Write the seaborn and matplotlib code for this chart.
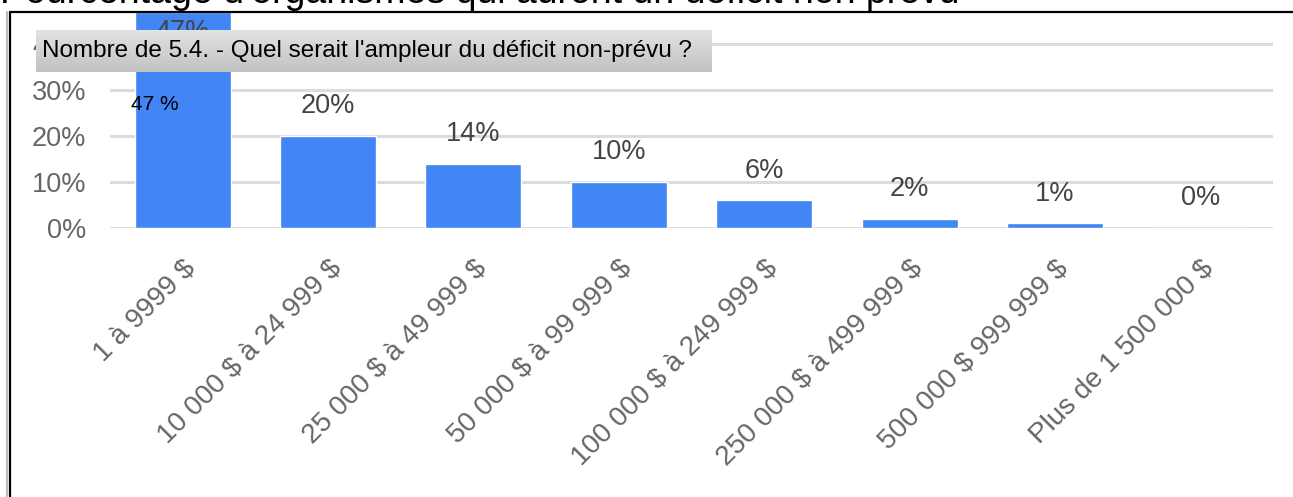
import matplotlib
matplotlib.use("Agg")
import matplotlib.pyplot as plt
import matplotlib.transforms as mtransforms
from matplotlib.lines import Line2D
from matplotlib.colors import LinearSegmentedColormap
import numpy as np
import pandas as pd
import seaborn as sns

categories = ["1 à 9999 $", "10 000 $ à 24 999 $", "25 000 $ à 49 999 $",
              "50 000 $ à 99 999 $", "100 000 $ à 249 999 $", "250 000 $ à 499 999 $",
              "500 000 $ 999 999 $", "Plus de 1 500 000 $"]
values = [47, 20, 14, 10, 6, 2, 1, 0]
value_labels = ["47%", "20%", "14%", "10%", "6%", "2%", "1%", "0%"]
y_ticks = [0, 10, 20, 30, 40]
y_tick_labels = ["0%", "10%", "20%", "30%", "40%"]
title = "Pourcentage d'organismes qui auront un déficit non prévu"
tooltip_text = "Nombre de 5.4. - Quel serait l'ampleur du déficit non-prévu ?"
tooltip_value = "47 %"

sns.set_theme(style="white")
plt.rcParams['font.family'] = ['Liberation Sans', 'DejaVu Sans']

W, H = 1293, 497
fig = plt.figure(figsize=(W / 100, H / 100), dpi=100)
fig.patch.set_facecolor("white")

ax_left, ax_right, ax_top, ax_bottom = 110, 1273, 13, 228
ax = fig.add_axes([ax_left / W, 1 - ax_bottom / H, (ax_right - ax_left) / W, (ax_bottom - ax_top) / H])

df = pd.DataFrame({"cat": categories, "val": values})
sns.barplot(data=df, x="cat", y="val", color="#4285F4", saturation=1, width=0.66, ax=ax)

ymax = (ax_bottom - ax_top) / 4.6
ax.set_ylim(0, ymax)
ax.set_xlim(-0.5, len(categories) - 0.5)
ax.set_yticks(y_ticks)
ax.set_yticklabels(y_tick_labels, fontsize=19.5, color="#666666")
ax.set_xlabel("")
ax.set_ylabel("")
ax.yaxis.grid(True, color="#dcdcdc", linewidth=2.2)
ax.set_axisbelow(True)
for s in ax.spines.values():
    s.set_visible(False)
ax.tick_params(axis="y", length=0, pad=17)
ax.tick_params(axis="x", length=0, pad=26)
ax.set_xticks(range(len(categories)))
display_cats = [c.replace("$", r"\$") for c in categories]
ax.set_xticklabels(display_cats, rotation=45, ha="right", va="center",
                   rotation_mode="anchor", fontsize=20, color="#666666")
offset = mtransforms.ScaledTranslation(9 / 100, 0, fig.dpi_scale_trans)
for lbl in ax.get_xticklabels():
    lbl.set_transform(lbl.get_transform() + offset)

for i, (v, lab) in enumerate(zip(values, value_labels)):
    if v <= ymax:
        ax.annotate(lab, (i, v), xytext=(0, 21.5), textcoords="offset points",
                    ha="center", va="center", fontsize=19.5, color="#444444",
                    annotation_clip=False)
    else:
        ax.annotate(lab, (i, ymax), xytext=(0, -14), textcoords="offset points",
                    ha="center", va="center", fontsize=19.5, color="#444444",
                    annotation_clip=False)

# tooltip value text inside first bar
ax.text(-0.355, (ax_bottom - 105) / 4.6, tooltip_value, ha="left", va="center",
        fontsize=15, color="black")

# title (partially cut at top)
fig.text(0.0, 1 - 3 / H, title, ha="left", va="baseline", fontsize=27, color="black")

# frame lines
fig.add_artist(Line2D([10 / W, 1.0], [1 - 12 / H, 1 - 12 / H], color="black", lw=1.6,
                      transform=fig.transFigure))
fig.add_artist(Line2D([10 / W, 10 / W], [0, 1 - 12 / H], color="black", lw=1.6,
                      transform=fig.transFigure))
fig.add_artist(Line2D([7 / W, 7 / W], [0, 1 - 12 / H], color="#bbbbbb", lw=1.5,
                      transform=fig.transFigure))

# tooltip box with gradient
tip = fig.add_axes([36 / W, 1 - 72 / H, (712 - 36) / W, (72 - 30) / H], zorder=10)
cmap = LinearSegmentedColormap.from_list("tip", ["#e2e2e2", "#c2c2c2"])
grad = np.linspace(0, 1, 64).reshape(-1, 1)
tip.imshow(grad, aspect="auto", cmap=cmap, extent=[0, 1, 0, 1], origin="upper")
tip.set_xlim(0, 1)
tip.set_ylim(0, 1)
tip.axis("off")
tip.text(6 / (712 - 36), 0.5, tooltip_text, ha="left", va="center", fontsize=17.5,
         color="black", family=["Liberation Sans", "DejaVu Sans"])

fig.savefig("out.png", dpi=100)
